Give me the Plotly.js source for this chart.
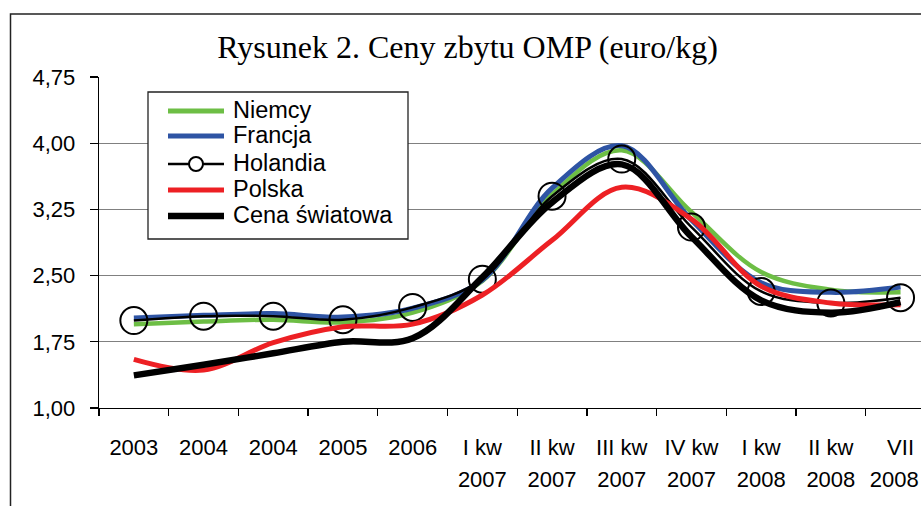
<!DOCTYPE html>
<html>
<head>
<meta charset="utf-8">
<script src="https://cdn.plot.ly/plotly-3.0.1.min.js"></script>
<style>
  html, body { margin: 0; padding: 0; background: #fff; }
  #chart { width: 921px; height: 506px; }
</style>
</head>
<body>
<div id="chart"></div>
<script>
// ---- data ----
const categories = ['2003', '2004', '2004', '2005', '2006', 'I kw', 'II kw', 'III kw', 'IV kw', 'I kw', 'II kw', 'VII'];
const categoryYears = ['', '', '', '', '', '2007', '2007', '2007', '2007', '2008', '2008', '2008'];
const seriesNames = ['Niemcy', 'Francja', 'Holandia', 'Polska', 'Cena światowa'];
const niemcy   = [1.95, 1.98, 2.00, 1.97, 2.08, 2.44, 3.42, 3.92, 3.22, 2.54, 2.34, 2.31];
const francja  = [2.02, 2.05, 2.07, 2.03, 2.13, 2.45, 3.49, 3.97, 3.13, 2.42, 2.31, 2.37];
const holandia = [1.99, 2.04, 2.04, 2.00, 2.14, 2.46, 3.40, 3.82, 3.05, 2.32, 2.19, 2.25];
const polska   = [1.55, 1.43, 1.74, 1.92, 1.95, 2.28, 2.90, 3.50, 3.14, 2.38, 2.19, 2.17];
const swiatowa = [1.37, 1.49, 1.62, 1.75, 1.79, 2.48, 3.33, 3.76, 2.94, 2.22, 2.08, 2.20];
const yTicks = [1.00, 1.75, 2.50, 3.25, 4.00, 4.75];
const titleText = 'Rysunek 2. Ceny zbytu OMP (euro/kg)';

// ---- styling ----
const W = 921, H = 506;
const M = { l: 99, r: 0, t: 77, b: 98 };
const PW = W - M.l - M.r, PH = H - M.t - M.b;
const catWidth = 69.7;
const colors = ['#6dbe45', '#2e54a4', '#000000', '#ed2024', '#000000'];
const widths = [4.5, 5, 2.5, 5, 6.5];
const sans = 'Liberation Sans, Arial, sans-serif';
const serif = 'Liberation Serif, Times New Roman, serif';

const idx = categories.map((_, i) => i);
const seriesData = [niemcy, francja, holandia, polska, swiatowa];

const traces = seriesData.map((vals, i) => {
  const t = {
    type: 'scatter', x: idx, y: vals, name: seriesNames[i],
    mode: 'lines',
    line: { color: colors[i], width: widths[i], shape: 'spline', smoothing: 1 },
    showlegend: false, hoverinfo: 'x+y+name'
  };
  if (seriesNames[i] === 'Holandia') {
    t.mode = 'lines+markers';
    t.marker = { symbol: 'circle-open', size: 27, color: '#000', line: { width: 2, color: '#000' } };
  }
  return t;
});
// invisible helper trace so the second (year) label axis is drawn
traces.push({ type: 'scatter', x: [], y: [], xaxis: 'x2', yaxis: 'y', showlegend: false, hoverinfo: 'skip' });

// pixel -> paper helpers
const px = v => (v - M.l) / PW;
const py = v => (M.t + PH - v) / PH;

const shapes = [];
const annotations = [];
// outer chart border (left and top visible)
shapes.push({ type: 'rect', xref: 'paper', yref: 'paper', x0: px(10.5), x1: 2, y0: -2, y1: py(14),
  line: { color: '#222', width: 1.5 }, fillcolor: 'rgba(0,0,0,0)', layer: 'above' });
// legend box
shapes.push({ type: 'rect', xref: 'paper', yref: 'paper', x0: px(148), x1: px(408), y0: py(239), y1: py(92),
  line: { color: '#222', width: 1.3 }, fillcolor: '#fff', layer: 'above' });
const legendY = [111, 136, 164, 190, 216];
seriesNames.forEach((nm, i) => {
  shapes.push({ type: 'line', xref: 'paper', yref: 'paper', x0: px(168), x1: px(224), y0: py(legendY[i]), y1: py(legendY[i]),
    line: { color: colors[i], width: i === 2 ? 2.5 : (i === 4 ? 6.5 : 5) }, layer: 'above' });
  if (nm === 'Holandia') {
    shapes.push({ type: 'circle', xref: 'paper', yref: 'paper', xsizemode: 'pixel', ysizemode: 'pixel',
      xanchor: px(196), yanchor: py(legendY[i]), x0: -7, x1: 7, y0: -7, y1: 7,
      line: { color: '#000', width: 2 }, fillcolor: '#fff', layer: 'above' });
  }
  annotations.push({ xref: 'paper', yref: 'paper', x: px(231), y: py(legendY[i] - 1), xanchor: 'left', yanchor: 'middle',
    text: nm, showarrow: false, font: { family: sans, size: 23.5, color: '#000' } });
});

// keep the last year label inside the page (nudge it slightly left)
const lastIdx = categoryYears.length - 1;
const yearTickVals = idx.map(i => (i === lastIdx ? i - 0.09 : i));

const layout = {
  width: W, height: H,
  margin: M,
  paper_bgcolor: '#fff', plot_bgcolor: '#fff',
  separators: ', ',
  showlegend: false,
  title: { text: titleText, font: { family: serif, size: 32, color: '#000' },
    xref: 'container', x: 467.5 / W, xanchor: 'center', yref: 'container', y: 1 - 47 / H, yanchor: 'middle' },
  xaxis: {
    range: [-0.5, -0.5 + PW / catWidth], fixedrange: true,
    tickmode: 'array', tickvals: idx, ticktext: categories,
    ticks: '', ticklabelstandoff: 19, ticklabeloverflow: 'allow',
    tickfont: { family: sans, size: 22, color: '#000' },
    showgrid: false, zeroline: false,
    showline: true, linecolor: '#000', linewidth: 1.3,
    minor: { tickmode: 'array', tickvals: idx.map(i => i - 0.5), ticks: 'outside', ticklen: 7, tickwidth: 1.3, tickcolor: '#000', showgrid: false }
  },
  xaxis2: {
    overlaying: 'x', anchor: 'y', side: 'bottom', matches: 'x',
    range: [-0.5, -0.5 + PW / catWidth], fixedrange: true,
    tickmode: 'array', tickvals: yearTickVals, ticktext: categoryYears,
    ticks: '', ticklabelstandoff: 56, ticklabeloverflow: 'allow',
    tickfont: { family: sans, size: 22, color: '#000' },
    showgrid: false, zeroline: false, showline: false
  },
  yaxis: {
    range: [1, 4.75], fixedrange: true,
    tickmode: 'array', tickvals: yTicks, tickformat: '.2f',
    ticks: 'outside', ticklen: 8, tickwidth: 1.3, tickcolor: '#000',
    ticklabelstandoff: 10,
    tickfont: { family: sans, size: 22, color: '#000' },
    showgrid: true, gridcolor: '#808080', gridwidth: 1.3,
    zeroline: false, showline: true, linecolor: '#000', linewidth: 1.3
  },
  shapes: shapes,
  annotations: annotations
};

Plotly.newPlot('chart', traces, layout, { staticPlot: true, displayModeBar: false });
</script>
</body>
</html>
